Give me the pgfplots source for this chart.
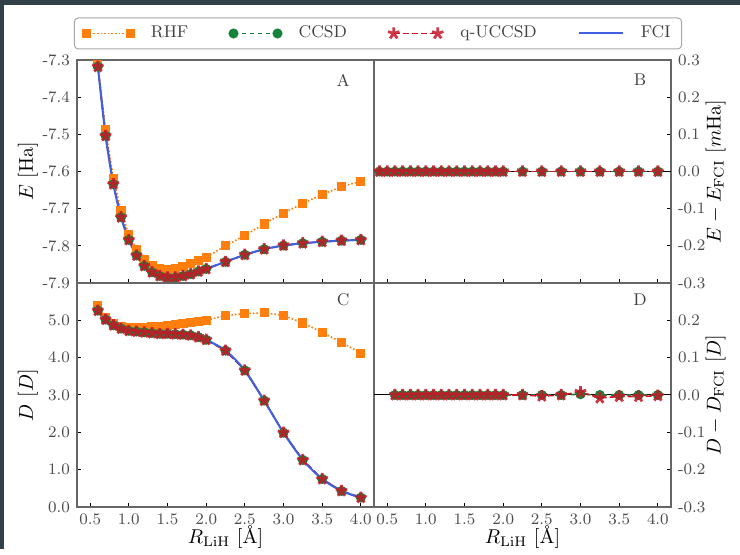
\documentclass[border=0pt]{standalone}
\usepackage{pgfplots}
\pgfplotsset{compat=1.18}
\definecolor{bgdark}{RGB}{50,64,72}
\definecolor{crhf}{RGB}{255,127,14}
\definecolor{cccsd}{RGB}{22,130,60}
\definecolor{cqu}{RGB}{200,22,40}
\definecolor{cfci}{RGB}{65,95,225}

\pgfplotstableread{
R E D
0.6 -7.313 5.40
0.7 -7.488 5.06
0.8 -7.618 4.91
0.9 -7.706 4.84
1.0 -7.769 4.81
1.1 -7.809 4.81
1.2 -7.836 4.81
1.3 -7.852 4.82
1.4 -7.861 4.84
1.5 -7.864 4.86
1.6 -7.862 4.88
1.7 -7.856 4.92
1.8 -7.847 4.95
1.9 -7.840 4.97
2.0 -7.831 5.00
2.25 -7.800 5.13
2.5 -7.772 5.18
2.75 -7.741 5.20
3.0 -7.712 5.13
3.25 -7.686 4.93
3.5 -7.662 4.68
3.75 -7.641 4.41
4.0 -7.626 4.12
}\rhf

\pgfplotstableread{
R E D
0.6 -7.318 5.26
0.7 -7.504 5.02
0.8 -7.634 4.87
0.9 -7.723 4.78
1.0 -7.784 4.72
1.1 -7.826 4.70
1.2 -7.854 4.68
1.3 -7.871 4.66
1.4 -7.881 4.64
1.5 -7.885 4.64
1.6 -7.885 4.63
1.7 -7.881 4.62
1.8 -7.876 4.60
1.9 -7.869 4.55
2.0 -7.862 4.48
2.25 -7.843 4.19
2.5 -7.824 3.66
2.75 -7.809 2.85
3.0 -7.799 1.99
3.25 -7.793 1.26
3.5 -7.789 0.75
3.75 -7.786 0.43
4.0 -7.784 0.25
}\fci

\pgfplotstableread{
R dE
0.4 0.0
0.5 0.0
0.6 0.0
0.7 0.0
0.8 0.0
0.9 0.0
1.0 0.0
1.1 0.0
1.2 0.0
1.3 0.0
1.4 0.0
1.5 0.0
1.6 0.0
1.7 0.0
1.8 0.0
1.9 0.0
2.0 0.0
2.25 0.0
2.5 0.0
2.75 0.0
3.0 0.0
3.25 0.0
3.5 0.0
3.75 0.0
4.0 0.0
}\diffE

\pgfplotstableread{
R ccsd qu
0.6 0.0 0.0
0.7 0.0 0.0
0.8 0.0 0.0
0.9 0.0 0.0
1.0 0.0 0.0
1.1 0.0 0.0
1.2 0.0 0.0
1.3 0.0 0.0
1.4 0.0 0.0
1.5 0.0 0.0
1.6 0.0 0.0
1.7 0.0 0.0
1.8 0.0 0.0
1.9 0.0 0.0
2.0 0.0 0.0
2.25 0.0 0.0
2.5 0.0 -0.003
2.75 0.0 0.0
3.0 0.002 0.008
3.25 0.0 -0.008
3.5 0.0 -0.004
3.75 0.0 -0.004
4.0 0.0 -0.002
}\diffD

\pgfplotsset{
  panel/.style={
    scale only axis, width=148.5pt,
    xmin=0.33, xmax=4.17,
    xtick={0.5,1.0,1.5,2.0,2.5,3.0,3.5,4.0},
    xtick pos=bottom,
    tick align=inside,
    axis line style={black!60, line width=0.6pt},
    tick style={black, line width=0.5pt},
    major tick length=2pt,
    tick label style={font=\fontsize{8}{9.6}\selectfont, text=black!70},
    label style={font=\fontsize{8.5}{10}\selectfont, text=black!75},
    clip=true,
  },
  rhfstyle/.style={crhf, densely dotted, line width=0.8pt, mark=square*, mark size=1.9pt, mark options={solid, fill=crhf, draw=crhf}},
  ccsdstyle/.style={cccsd, dash pattern=on 2pt off 2pt, line width=0.8pt, mark=*, mark size=2.1pt, mark options={solid, fill=cccsd, draw=cccsd}},
  qustyle/.style={cqu, dash pattern=on 3pt off 1.5pt, line width=0.8pt, mark=star, mark size=3pt, mark options={solid, fill=cqu, draw=cqu, line width=1.4pt, opacity=0.85}},
  fcistyle/.style={cfci, solid, line width=1pt},
}

\begin{document}
\begin{tikzpicture}
\fill[bgdark] (0pt,0pt) rectangle (370pt,274.5pt);
\fill[white] (2pt,0pt) rectangle (370pt,272pt);

% ---------- Panel A ----------
\begin{axis}[panel, at={(38.5pt,133pt)}, anchor=south west, height=111.5pt,
  ymin=-7.9, ymax=-7.3,
  ytick={-7.9,-7.8,-7.7,-7.6,-7.5,-7.4,-7.3},
  yticklabels={-7.9,-7.8,-7.7,-7.6,-7.5,-7.4,-7.3},
  xticklabels={},
  ytick pos=left,
  ylabel={$E$ [Ha]},
  every axis y label/.style={at={(axis description cs:-0.165,0.5)}, rotate=90, anchor=center},
  legend columns=4,
  legend image code/.code={\draw[#1] plot coordinates {(0pt,0pt) (22pt,0pt)};},
  legend style={at={(axis description cs:1.0135,1.119)}, anchor=center,
    draw=black!35, rounded corners=2pt, line width=0.5pt,
    font=\fontsize{8.5}{10}\selectfont, text=black!75,
    inner xsep=4pt, inner ysep=2.5pt,
    nodes={inner sep=1.5pt},
    /tikz/every odd column/.append style={column sep=7pt},
    /tikz/every even column/.append style={column sep=19pt}},
]
\addplot[rhfstyle] table[x=R,y=E] {\rhf};
\addlegendentry{RHF}
\addplot[ccsdstyle] table[x=R,y=E] {\fci};
\addlegendentry{CCSD}
\addplot[qustyle] table[x=R,y=E] {\fci};
\addlegendentry{q-UCCSD}
\addplot[fcistyle, smooth] table[x=R,y=E] {\fci};
\addlegendentry{FCI}
\node[font=\fontsize{8.5}{10}\selectfont, text=black!75] at (axis description cs:0.896,0.91) {A};
\end{axis}

% ---------- Panel B ----------
\begin{axis}[panel, at={(187pt,133pt)}, anchor=south west, height=111.5pt,
  ymin=-0.3, ymax=0.3,
  ytick={-0.3,-0.2,-0.1,0,0.1,0.2,0.3},
  yticklabels={-0.3,-0.2,-0.1,0.0,0.1,0.2,0.3},
  xticklabels={},
  ytick pos=right, yticklabel pos=right,
  ylabel={$E-E_{\mathrm{FCI}}$ [$m$Ha]},
  every axis y label/.style={at={(axis description cs:1.15,0.5)}, rotate=90, anchor=center},
]
\addplot[black, line width=0.5pt, no markers] coordinates {(0.33,0) (4.17,0)};
\addplot[ccsdstyle] table[x=R,y=dE] {\diffE};
\addplot[qustyle] table[x=R,y=dE] {\diffE};
\node[font=\fontsize{8.5}{10}\selectfont, text=black!75] at (axis description cs:0.896,0.91) {B};
\end{axis}

% ---------- Panel C ----------
\begin{axis}[panel, at={(38.5pt,21pt)}, anchor=south west, height=112pt,
  ymin=0, ymax=6,
  ytick={0,1,2,3,4,5},
  yticklabels={0.0,1.0,2.0,3.0,4.0,5.0},
  xticklabels={0.5,1.0,1.5,2.0,2.5,3.0,3.5,4.0},
  ytick pos=left,
  ylabel={$D$ [$D$]},
  every axis y label/.style={at={(axis description cs:-0.165,0.5)}, rotate=90, anchor=center},
  xlabel={$R_{\mathrm{LiH}}$ [\AA]},
  every axis x label/.style={at={(axis description cs:0.5,-0.133)}, anchor=center},
]
\addplot[rhfstyle] table[x=R,y=D] {\rhf};
\addplot[ccsdstyle] table[x=R,y=D] {\fci};
\addplot[qustyle] table[x=R,y=D] {\fci};
\addplot[fcistyle, smooth] table[x=R,y=D] {\fci};
\node[font=\fontsize{8.5}{10}\selectfont, text=black!75] at (axis description cs:0.896,0.924) {C};
\end{axis}

% ---------- Panel D ----------
\begin{axis}[panel, at={(187pt,21pt)}, anchor=south west, height=112pt,
  ymin=-0.3, ymax=0.3,
  ytick={-0.3,-0.2,-0.1,0,0.1,0.2},
  yticklabels={-0.3,-0.2,-0.1,0.0,0.1,0.2},
  xticklabels={0.5,1.0,1.5,2.0,2.5,3.0,3.5,4.0},
  ytick pos=right, yticklabel pos=right,
  ylabel={$D-D_{\mathrm{FCI}}$ [$D$]},
  every axis y label/.style={at={(axis description cs:1.15,0.5)}, rotate=90, anchor=center},
  xlabel={$R_{\mathrm{LiH}}$ [\AA]},
  every axis x label/.style={at={(axis description cs:0.5,-0.133)}, anchor=center},
]
\addplot[black, line width=0.5pt, no markers] coordinates {(0.33,0) (4.17,0)};
\addplot[ccsdstyle] table[x=R,y=ccsd] {\diffD};
\addplot[qustyle] table[x=R,y=qu] {\diffD};
\node[font=\fontsize{8.5}{10}\selectfont, text=black!75] at (axis description cs:0.896,0.924) {D};
\end{axis}
\end{tikzpicture}
\end{document}
